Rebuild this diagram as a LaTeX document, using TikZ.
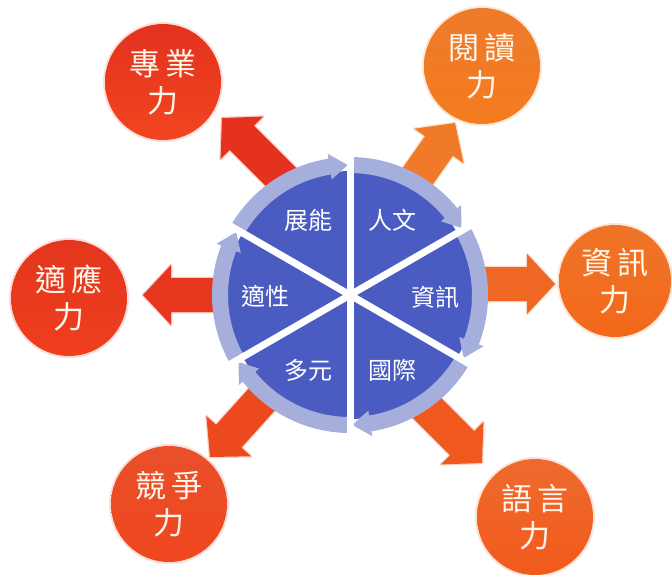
\documentclass[tikz,border=0pt]{standalone}
\usepackage{fontspec}
\newfontfamily\cjk{Noto Sans CJK TC}
\usetikzlibrary{calc}
\definecolor{wheelblue}{HTML}{4A5CC2}
\definecolor{ringc}{HTML}{A6AEDC}
\definecolor{creamtext}{HTML}{FFF6EC}
\definecolor{redA}{HTML}{E2321F}\definecolor{redB}{HTML}{F2451F}
\definecolor{orA}{HTML}{EE7A2C}\definecolor{orB}{HTML}{F47C1E}
\definecolor{inA}{HTML}{EF7428}\definecolor{inB}{HTML}{F2681A}
\definecolor{lgA}{HTML}{EE6A2E}\definecolor{lgB}{HTML}{F25A1C}
\definecolor{cpA}{HTML}{E8502A}\definecolor{cpB}{HTML}{F0461E}
\definecolor{adA}{HTML}{E3361E}\definecolor{adB}{HTML}{F03E1E}
\definecolor{arUL}{HTML}{E4321F}
\definecolor{arUR}{HTML}{F07A2A}
\definecolor{arR}{HTML}{EE6824}
\definecolor{arLR}{HTML}{F0581E}
\definecolor{arLL}{HTML}{EC4A1E}
\definecolor{arL}{HTML}{E6361E}
\tikzset{
  ball/.style 2 args={circle, minimum size=116pt, inner sep=0pt, align=center,
    top color=#1, bottom color=#2, preaction={draw=#2!18, line width=4pt},
    font=\cjk\fontsize{31}{37}\selectfont, text=creamtext},
  wtext/.style={font=\cjk\fontsize{24}{26}\selectfont, text=white, inner sep=0pt},
  wheelstyle/.style={circle, minimum size=248pt, inner sep=0pt, fill=wheelblue},
}
\newcommand{\blockarrow}[4]{%
  \begin{scope}[shift={#1}, rotate=#2]
    \draw[#4!25, line width=2.5pt, line join=round] (0,0) -- (-28,30) -- (-28,17) -- (-#3,17) -- (-#3,-17) -- (-28,-17) -- (-28,-30) -- cycle;
    \fill[#4] (0,0) -- (-28,30) -- (-28,17) -- (-#3,17) -- (-#3,-17) -- (-28,-17) -- (-28,-30) -- cycle;
  \end{scope}}
\begin{document}
\begin{tikzpicture}[x=1pt,y=1pt]
\useasboundingbox (0,0) rectangle (672,-574);
\coordinate (tipUL) at (222,-118);
\coordinate (tipUR) at (455,-123);
\coordinate (tipR) at (555,-284);
\coordinate (tipLR) at (482,-463);
\coordinate (tipLL) at (210,-457);
\coordinate (tipL) at (143,-295);
\blockarrow{(tipUL)}{135}{110}{arUL}
\blockarrow{(tipUR)}{55}{100}{arUR}
\blockarrow{(tipR)}{0}{100}{arR}
\blockarrow{(tipLR)}{-45}{110}{arLR}
\blockarrow{(tipLL)}{-132}{110}{arLL}
\blockarrow{(tipL)}{180}{100}{arL}
\node[wheelstyle] (wheel) at (350,-295) {};
\begin{scope}[shift={(wheel.center)}]
  \foreach \a in {150,90,...,-150} {
    \pgfmathsetmacro\s{\a-1}
    \pgfmathsetmacro\h{\a-60+9}
    \pgfmathsetmacro\e{\a-60+1}
    \fill[ringc] (\s:138) arc[start angle=\s, end angle=\h, radius=138]
      -- (\h:143) -- (\e:130) -- (\h:117) -- (\h:122)
      arc[start angle=\h, end angle=\s, radius=122] -- cycle;
  }
  \foreach \a in {90,30,-30} {
    \draw[white, line width=7pt] (\a:146) -- (\a+180:146);
  }
\end{scope}
\node[wtext] (t1) at (308,-220) {展能};
\node[wtext] (t2) at (392,-220) {人文};
\node[wtext] (t3) at (435,-297) {資訊};
\node[wtext] (t4) at (392,-370) {國際};
\node[wtext] (t5) at (308,-370) {多元};
\node[wtext] (t6) at (265,-296) {適性};
\node[ball={redA}{redB}] (c1) at (163,-82) {專\hspace{5pt}業\\力};
\node[ball={orA}{orB}] (c2) at (482,-66) {閱\hspace{5pt}讀\\力};
\node[ball={inA}{inB}, minimum size=112pt] (c3) at (615,-281) {資\hspace{5pt}訊\\力};
\node[ball={lgA}{lgB}] (c4) at (535,-517) {語\hspace{5pt}言\\力};
\node[ball={cpA}{cpB}] (c5) at (169,-504) {競\hspace{5pt}爭\\力};
\node[ball={adA}{adB}] (c6) at (69,-298) {適\hspace{5pt}應\\力};
\end{tikzpicture}
\end{document}
